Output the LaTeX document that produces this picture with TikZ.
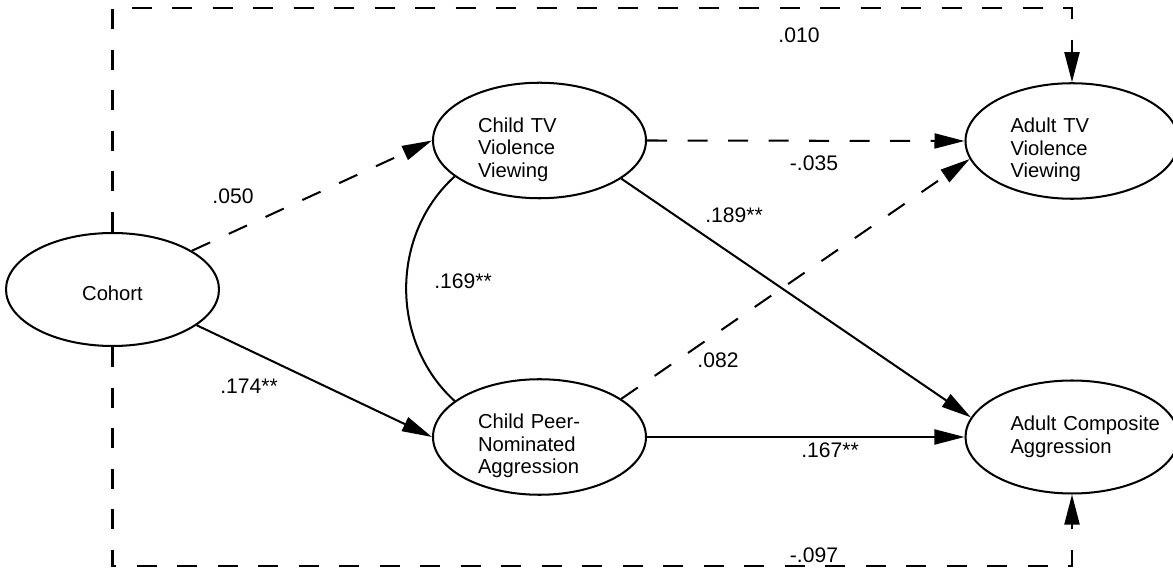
\documentclass[tikz,border=0pt]{standalone}
\usepackage{fontspec}
\setmainfont{Liberation Sans}
\usetikzlibrary{arrows.meta,shapes.geometric}

\begin{document}
\begin{tikzpicture}[>={Triangle[length=6mm,width=3mm]},
  var/.style={draw,ellipse,line width=1.15pt,minimum width=4.26cm,minimum height=2.26cm,inner sep=0pt,font=\fontsize{11.5}{12.8}\selectfont},
  vartxt/.style={var,text width=2.46cm,align=left},
  coef/.style={inner sep=0pt,font=\fontsize{12}{14}\selectfont},
  sig/.style={line width=1.15pt,->},
  ns/.style={line width=1.15pt,->,dash pattern=on 4mm off 4.1mm}]
\useasboundingbox (0,0) rectangle (23.46,11.46);

% variables
\node[var,text height=12.5pt] (cohort) at (2.25,5.67) {Cohort};
\node[vartxt,text height=18.5pt] (childtv) at (10.79,8.65) {Child TV\\Violence\\Viewing};
\node[vartxt,text height=18.5pt] (childpeer) at (10.79,2.72) {Child Peer-\\Nominated\\Aggression};
\node[vartxt,text height=18.5pt] (adulttv) at (21.44,8.64) {Adult TV\\Violence\\Viewing};
\node[vartxt] (adultagg) at (21.44,2.72) {\mbox{Adult Composite}\\Aggression};

% paths
\draw[ns] (cohort.26) -- (childtv.west);
\draw[sig] (cohort.-23) -- (childpeer.west);
\draw[ns] (childtv.east) -- (adulttv.west);
\draw[sig] (childtv.-25) -- (adultagg.169);
\draw[ns] (childpeer.25) -- (adulttv.190);
\draw[sig] (childpeer.east) -- (adultagg.west);
\draw[line width=1.15pt] (childtv.203) .. controls (7.80,6.76) and (7.80,4.62) .. (childpeer.157);

% direct paths from cohort to adult outcomes
\coordinate (tr) at (21.44,11.30);
\coordinate (br) at (21.44,0.14);
\draw[ns] (cohort.north) |- (tr) -- (adulttv.north);
\draw[ns] (cohort.south) |- (br) -- (adultagg.south);

% coefficients
\node[coef] (c010) at (15.98,10.76) {.010};
\node[coef] (c050) at (4.66,7.54) {.050};
\node[coef] (c035) at (16.28,8.20) {-.035};
\node[coef] (c189) at (14.68,7.16) {.189**};
\node[coef] (c169) at (9.26,5.84) {.169**};
\node[coef] (c082) at (14.36,4.26) {.082};
\node[coef] (c174) at (4.98,3.74) {.174**};
\node[coef] (c167) at (16.60,2.46) {.167**};
\node[coef] (c097) at (16.28,0.36) {-.097};
\end{tikzpicture}
\end{document}
